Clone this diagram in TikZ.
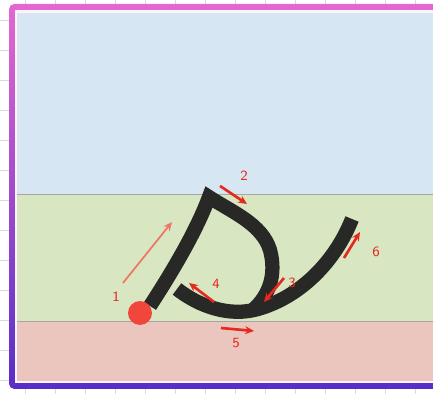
\documentclass[tikz,border=0pt]{standalone}
\usepackage{tikz}
\usetikzlibrary{arrows.meta}
\definecolor{skyband}{RGB}{214,231,243}
\definecolor{grassband}{RGB}{216,230,194}
\definecolor{roseband}{RGB}{235,198,190}
\definecolor{framepink}{RGB}{228,104,206}
\definecolor{framepurple}{RGB}{88,46,200}
\definecolor{ink}{RGB}{40,40,38}
\definecolor{penred}{RGB}{230,40,30}
\definecolor{dotred}{RGB}{240,70,60}
\definecolor{fadered}{RGB}{236,120,100}
\tikzset{
  stroke/.style={ink,line width=0.285cm,line join=miter,line cap=butt},
  hint/.style={->,penred,line width=1.5pt},
  num/.style={penred,font=\sffamily\footnotesize,inner sep=0pt}
}

\begin{document}
\begin{tikzpicture}[x=0.02cm,y=-0.02cm,>={Stealth[length=5pt,width=4.5pt]}]
	  \useasboundingbox (0,0) rectangle (433,394);
	  \clip (0,0) rectangle (433,394);
	  % paper underneath
	  \fill[white] (0,0) rectangle (433,394);
	  \foreach \yy in {20,50,...,380} \draw[gray!30] (0,\yy) -- (433,\yy);
	  \foreach \xx in {25,55,...,433} \draw[gray!30] (\xx,0) -- (\xx,394);
	  % frame
	  \shade[top color=framepink,bottom color=framepurple,rounded corners=3pt] (9,4) rectangle (445,389);
	  \fill[white!92!framepink] (15,10) rectangle (445,383);
	  % writing bands
	  \fill[skyband] (17,13) rectangle (445,194);
	  \fill[grassband] (17,194) rectangle (445,321);
	  \fill[roseband] (17,321) rectangle (445,381);
	  \draw[gray!70] (17,194) -- (445,194);
	  \draw[gray!70] (17,321) -- (445,321);
	  % letter
	  \draw[stroke] (150,306) .. controls (172,272) and (196,232) .. (209,197)
	    .. controls (232,212) and (262,224) .. (270,250)
	    .. controls (277,276) and (268,296) .. (254,309);
	  \draw[stroke] (177,289) .. controls (200,307) and (230,317) .. (258,309)
	    .. controls (300,297) and (335,262) .. (352,219);
	  \node[circle,fill=dotred,minimum size=0.48cm,inner sep=0pt] (start) at (140,313) {};
	  % order hints
	  \coordinate (a1) at (123,283); \coordinate (b1) at (172,222);
	  \coordinate (a2) at (220,186); \coordinate (b2) at (247,204);
	  \coordinate (a3) at (284,278); \coordinate (b3) at (264,302);
	  \coordinate (a4) at (214,302); \coordinate (b4) at (189,283);
	  \coordinate (a5) at (221,328); \coordinate (b5) at (254,331);
	  \coordinate (a6) at (344,258); \coordinate (b6) at (360,232);
	  \draw[hint,fadered,line width=1pt] (a1) -- (b1);
	  \draw[hint] (a2) -- (b2);
	  \draw[hint] (a3) -- (b3);
	  \draw[hint] (a4) -- (b4);
	  \draw[hint] (a5) -- (b5);
	  \draw[hint] (a6) -- (b6);
	  \node[num] (n1) at (116,297) {1};
	  \node[num] (n2) at (244,176) {2};
	  \node[num] (n3) at (292,283) {3};
	  \node[num] (n4) at (216,284) {4};
	  \node[num] (n5) at (236,343) {5};
	  \node[num] (n6) at (376,252) {6};
	\end{tikzpicture}
\end{document}
